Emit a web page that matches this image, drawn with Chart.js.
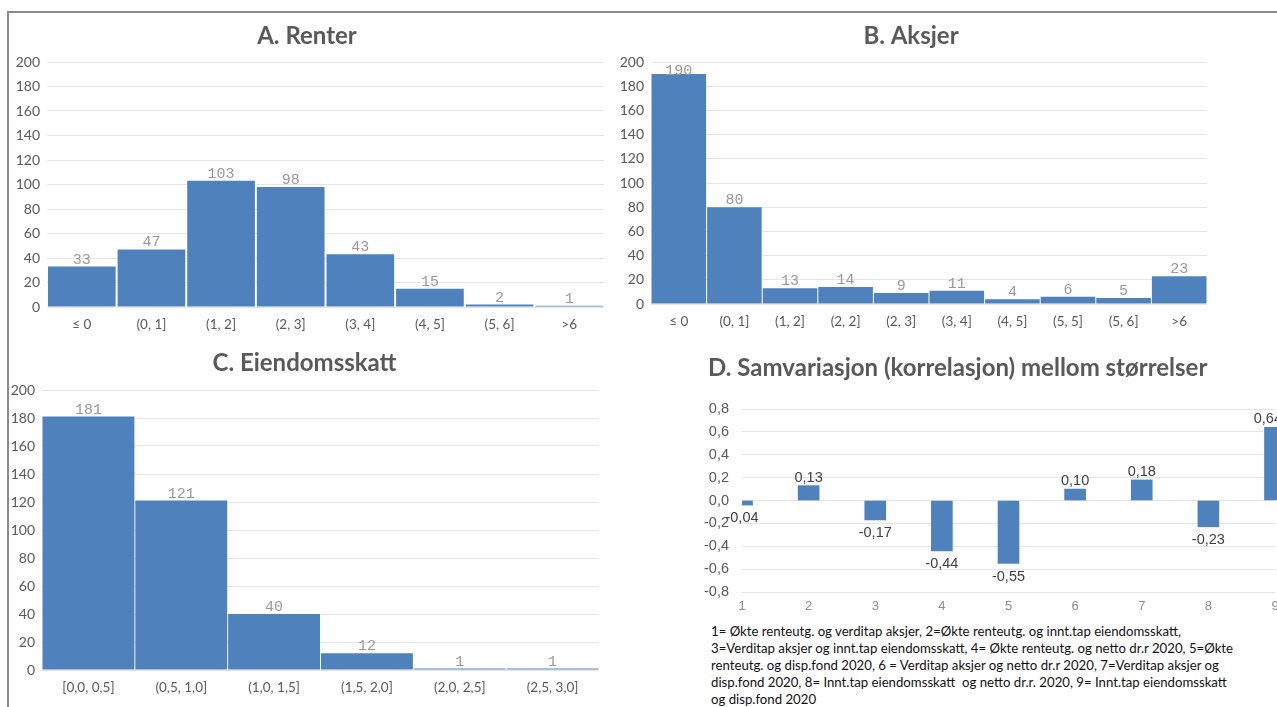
<!DOCTYPE html>
<html>
<head>
<meta charset="utf-8">
<script src="https://cdn.jsdelivr.net/npm/chart.js@4.4.0/dist/chart.umd.min.js"></script>
<style>
  html, body { margin: 0; padding: 0; background: #fff; }
  #page { position: relative; width: 1277px; height: 707px; overflow: hidden; }
  canvas { position: absolute; }
  .frame-top { position: absolute; left: 7px; top: 11px; width: 1280px; height: 2px; background: #8a8a8a; }
  .frame-left { position: absolute; left: 7px; top: 11px; width: 2px; height: 700px; background: #8a8a8a; }
  #title-d {
    position: absolute; left: 708px; top: 353px;
    font-family: Lato, sans-serif; font-weight: bold; font-size: 24px; line-height: 28.8px;
    color: #595959; white-space: nowrap;
  }
  #note {
    position: absolute; left: 711px; top: 623px;
    font-family: Lato, sans-serif; font-size: 13.2px; line-height: 17px;
    color: #111; white-space: nowrap;
  }
</style>
</head>
<body>
<div id="page">
  <div class="frame-top"></div>
  <div class="frame-left"></div>
  <canvas id="chart-a" width="614" height="326" style="left:10px;top:14px"></canvas>
  <canvas id="chart-b" width="596" height="323" style="left:615px;top:14px"></canvas>
  <canvas id="chart-c" width="594" height="362" style="left:10px;top:341px"></canvas>
  <canvas id="chart-d" width="590" height="276" style="left:700px;top:341px"></canvas>
  <div id="title-d">D. Samvariasjon (korrelasjon) mellom størrelser</div>
  <div id="note">
    1= Økte renteutg. og verditap aksjer, 2=Økte renteutg. og innt.tap eiendomsskatt,<br>
    3=Verditap aksjer og innt.tap eiendomsskatt, 4= Økte renteutg. og netto dr.r 2020, 5=Økte<br>
    renteutg. og disp.fond 2020, 6 = Verditap aksjer og netto dr.r 2020, 7=Verditap aksjer og<br>
    disp.fond 2020, 8= Innt.tap eiendomsskatt&nbsp; og netto dr.r. 2020, 9= Innt.tap eiendomsskatt<br>
    og disp.fond 2020
  </div>
</div>

<script>
// Data
const renterLabels = ['≤ 0', '(0, 1]', '(1, 2]', '(2, 3]', '(3, 4]', '(4, 5]', '(5, 6]', '>6'];
const renterValues = [33, 47, 103, 98, 43, 15, 2, 1];

const aksjerLabels = ['≤ 0', '(0, 1]', '(1, 2]', '(2, 2]', '(2, 3]', '(3, 4]', '(4, 5]', '(5, 5]', '(5, 6]', '>6'];
const aksjerValues = [190, 80, 13, 14, 9, 11, 4, 6, 5, 23];

const skattLabels = ['[0,0, 0,5]', '(0,5, 1,0]', '(1,0, 1,5]', '(1,5, 2,0]', '(2,0, 2,5]', '(2,5, 3,0]'];
const skattValues = [181, 121, 40, 12, 1, 1];

const korrLabels = ['1', '2', '3', '4', '5', '6', '7', '8', '9'];
const korrValues = [-0.04, 0.13, -0.17, -0.44, -0.55, 0.10, 0.18, -0.23, 0.64];

const countMin = 0, countMax = 200, countStep = 20;
const korrMin = -0.8, korrMax = 0.8, korrStep = 0.2;

const BLUE = '#4f81bd';
const AXIS_TEXT = '#595959';
const GRID = '#e4e4e4';

// draws the value above (or below, if negative) each bar
const valueLabels = {
    id: 'valueLabels',
    afterDatasetsDraw(chart, args, opts) {
        const ctx = chart.ctx;
        const meta = chart.getDatasetMeta(0);
        const data = chart.data.datasets[0].data;
        ctx.save();
        ctx.font = opts.font;
        ctx.fillStyle = opts.color;
        ctx.textAlign = 'center';
        meta.data.forEach((bar, i) => {
            const v = data[i];
            const text = opts.format ? opts.format(v) : String(v);
            let x = bar.x;
            if (opts.maxRight) {
                // keep the label inside the plot like Excel does
                x = Math.min(x, opts.maxRight - ctx.measureText(text).width / 2);
            }
            if (v >= 0) {
                ctx.textBaseline = 'alphabetic';
                const y = Math.max(bar.y - opts.gap, chart.chartArea.top + opts.minTop);
                ctx.fillText(text, x, y);
            } else {
                ctx.textBaseline = 'top';
                ctx.fillText(text, x, bar.y + opts.gap + 2);
            }
        });
        ctx.restore();
    }
};

function createHistogram(canvasId, title, labels, values, opts) {
    const ctx = document.getElementById(canvasId).getContext('2d');
    new Chart(ctx, {
        type: 'bar',
        data: {
            labels: labels,
            datasets: [{
                data: values,
                backgroundColor: BLUE,
                borderWidth: 0,
                barPercentage: opts.barPct,
                categoryPercentage: 1
            }]
        },
        plugins: [valueLabels],
        options: {
            responsive: false,
            animation: false,
            layout: { padding: { right: opts.padRight } },
            plugins: {
                legend: { display: false },
                tooltip: { enabled: false },
                title: {
                    display: true,
                    text: title,
                    color: AXIS_TEXT,
                    font: { family: 'Lato', size: 24, weight: 'bold', lineHeight: 1.2 },
                    padding: { top: 8, bottom: opts.titleBottom }
                },
                valueLabels: {
                    font: '15px "Liberation Mono"',
                    color: '#999999',
                    gap: 3,
                    minTop: 13
                }
            },
            scales: {
                x: {
                    grid: { display: false, drawTicks: false },
                    border: { display: false },
                    ticks: { color: AXIS_TEXT, font: { family: 'Lato', size: 13.5 }, padding: 10 },
                    afterFit: (scale) => { scale.height = 33; }
                },
                y: {
                    min: countMin,
                    max: countMax,
                    grid: { color: GRID, drawTicks: false },
                    border: { display: false },
                    ticks: { stepSize: countStep, color: AXIS_TEXT, font: { family: 'Lato', size: 14 }, padding: 7 },
                    afterFit: (scale) => { scale.width = opts.yWidth; }
                }
            }
        }
    });
}

createHistogram('chart-a', 'A. Renter', renterLabels, renterValues,
    { barPct: 0.972, padRight: 20, yWidth: 37, titleBottom: 11.2 });
createHistogram('chart-b', 'B. Aksjer', aksjerLabels, aksjerValues,
    { barPct: 0.982, padRight: 4, yWidth: 36, titleBottom: 11.2 });
createHistogram('chart-c', 'C. Eiendomsskatt', skattLabels, skattValues,
    { barPct: 0.99, padRight: 5, yWidth: 32, titleBottom: 12.2 });

// D: correlation chart, bars centred on the ticks (title is the html div above)
const comma = (v, d) => v.toFixed(d).replace('.', ',');

new Chart(document.getElementById('chart-d').getContext('2d'), {
    type: 'bar',
    data: {
        labels: korrLabels,
        datasets: [{
            data: korrValues,
            backgroundColor: BLUE,
            borderWidth: 0,
            barThickness: 21,
            clip: { left: 0, top: false, right: false, bottom: false }
        }]
    },
    plugins: [valueLabels],
    options: {
        responsive: false,
        animation: false,
        layout: { padding: { top: 68, left: 0, right: 15 } },
        plugins: {
            legend: { display: false },
            tooltip: { enabled: false },
            title: { display: false },
            valueLabels: {
                font: '14.5px "Liberation Sans"',
                color: '#404040',
                gap: 4,
                minTop: 0,
                maxRight: 582,
                format: (v) => comma(v, 2)
            }
        },
        scales: {
            x: {
                offset: false,
                grid: { display: false, drawTicks: false },
                border: { display: false },
                ticks: { color: '#8c8c8c', font: { family: 'Liberation Sans', size: 13 }, padding: 7 },
                afterFit: (scale) => { scale.height = 25; }
            },
            y: {
                min: korrMin,
                max: korrMax,
                grid: { color: GRID, drawTicks: false },
                border: { display: false },
                ticks: {
                    stepSize: korrStep,
                    color: AXIS_TEXT,
                    font: { family: 'Liberation Sans', size: 14.5 },
                    padding: 13,
                    callback: (v) => comma(v, 1)
                },
                afterFit: (scale) => { scale.width = 42; }
            }
        }
    }
});
</script>
</body>
</html>
